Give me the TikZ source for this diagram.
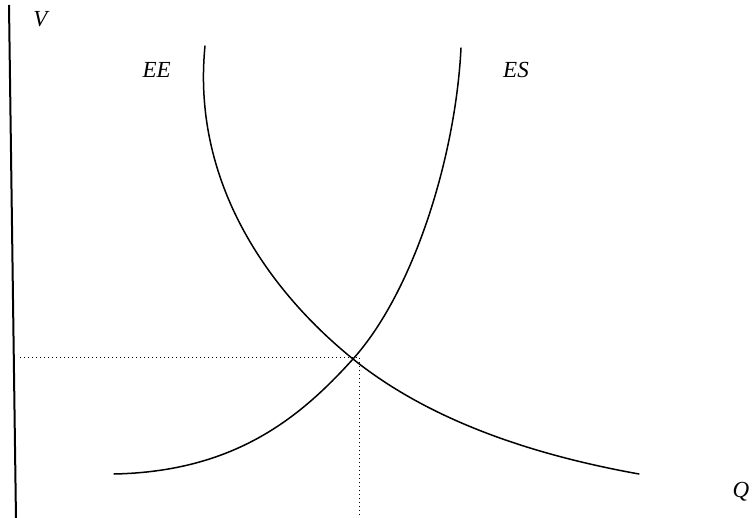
\documentclass[tikz,border=0pt]{standalone}
\usepackage{fontspec}
\setmainfont{Liberation Serif}
\begin{document}
\begin{tikzpicture}[x=1pt,y=-1pt,
  curve/.style={line width=1.5pt,line cap=round},
  guide/.style={line width=0.9pt,dash pattern=on 1.2pt off 2.8pt},
  lbl/.style={font=\fontsize{23}{27}\selectfont\itshape,inner sep=0pt}]
\useasboundingbox (0,0) rectangle (752,518);
% vertical axis
\coordinate (axtop) at (9,5);
\coordinate (axbot) at (16,520);
\draw[line width=2pt] (axtop) -- (axbot);
% equilibrium
\coordinate (eq) at (353,359);
\coordinate (hstart) at (20,357);
\coordinate (hend) at (359,357);
\coordinate (vbot) at (359,520);
\draw[guide] (hstart) -- (hend) -- (vbot);
% EE curve
\coordinate (eeA) at (205,46);
\coordinate (eeD) at (639,474);
\draw[curve] (eeA) .. controls (191,188) and (275,296) .. (eq)
  .. controls (431.9,422.5) and (537.6,455.8) .. (eeD);
% ES curve
\coordinate (esE) at (114,474);
\coordinate (esF) at (461,48);
\draw[curve] (esE) .. controls (234,471.6) and (299.5,418.4) .. (eq)
  .. controls (413.2,292.1) and (455.5,158) .. (esF);
% labels
\node[lbl] (V) at (40.5,19.5) {V};
\node[lbl] (EE) at (156.7,70) {EE};
\node[lbl] (ES) at (516,70) {ES};
\node[lbl] (Q) at (741,492) {Q};
\end{tikzpicture}
\end{document}
